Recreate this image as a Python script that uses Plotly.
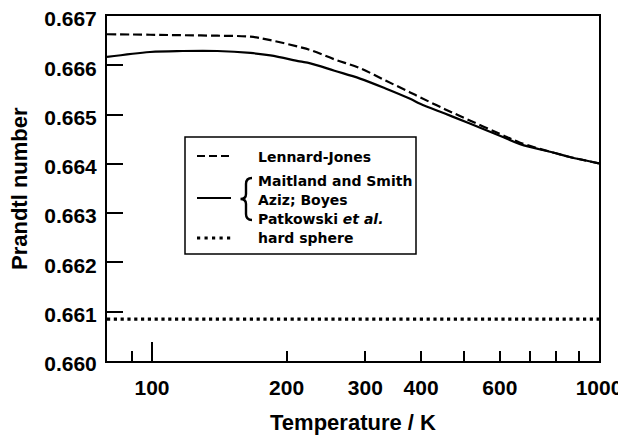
import math
import plotly.graph_objects as go

# ---- data ----
temperature_K = [79.3, 99, 117, 140, 166, 184, 214, 226, 256, 292, 333, 378, 398,
                 452, 514, 600, 666, 789, 860, 1000]
pr_lennard_jones = [0.66663, 0.66662, 0.66661, 0.66660, 0.66658, 0.66651, 0.66637,
                    0.66631, 0.66612, 0.66594, 0.66569, 0.66545, 0.66535, 0.66511,
                    0.66488, 0.66461, 0.66443, 0.66423, 0.66414, 0.66401]
pr_ab_initio = [0.66617, 0.66627, 0.66629, 0.66629, 0.66625, 0.66620, 0.66608,
                0.66604, 0.66589, 0.66573, 0.66553, 0.66532, 0.66522, 0.66502,
                0.66482, 0.66457, 0.66440, 0.66423, 0.66414, 0.66401]
hard_sphere_T = [79.3, 1000]
pr_hard_sphere = [0.66085, 0.66085]

x_tick_vals = [100, 200, 300, 400, 600, 1000]
x_tick_text = ["100", "200", "300", "400", "600", "1000"]
x_minor_vals = [90, 500, 700, 800, 900]
x_major_long = [100, 1000]
y_tick_vals = [0.660, 0.661, 0.662, 0.663, 0.664, 0.665, 0.666, 0.667]
y_tick_text = ["0.660", "0.661", "0.662", "0.663", "0.664", "0.665", "0.666", "0.667"]

x_title = "Temperature / K"
y_title = "Prandtl number"
legend_lj = "Lennard-Jones"
legend_ab = ["Maitland and Smith", "Aziz; Boyes", "Patkowski <i>et al.</i>"]
legend_hs = "hard sphere"

# ---- layout geometry (page pixels; the page body adds an 8 px offset) ----
OFF = 8
W, H = 626 - OFF, 435 - OFF
L, R, T, B = 107, 599, 16, 361   # plot area in page pixels

def px(x):
    return (x - L) / (R - L)

def py(y):
    return (B - y) / (B - T)

TICKFONT = dict(family="Liberation Sans, Arial", size=21, color="black", weight="bold")
TITLEFONT = dict(family="Liberation Sans, Arial", size=22, color="black", weight="bold")
LEGFONT = dict(family="DejaVu Sans", size=14, color="black", weight="bold")

fig = go.Figure()
fig.add_trace(go.Scatter(x=temperature_K, y=pr_lennard_jones, mode="lines",
                         line=dict(color="black", width=2.2, dash="9px,4px", shape="spline"),
                         showlegend=False))
fig.add_trace(go.Scatter(x=temperature_K, y=pr_ab_initio, mode="lines",
                         line=dict(color="black", width=2.2, shape="spline"),
                         showlegend=False))
fig.add_trace(go.Scatter(x=hard_sphere_T, y=pr_hard_sphere, mode="lines",
                         line=dict(color="black", width=3.2, dash="3.2px,3.6px"),
                         showlegend=False, xaxis="x2"))

xr = [math.log10(temperature_K[0]), math.log10(temperature_K[-1])]

shapes = []
shapes.append(dict(type="rect", xref="paper", yref="paper",
                   x0=px(185), x1=px(416), y0=py(254), y1=py(137),
                   line=dict(color="black", width=1.5), fillcolor="white", layer="above"))
shapes.append(dict(type="line", xref="paper", yref="paper",
                   x0=px(197), x1=px(233), y0=py(156), y1=py(156),
                   line=dict(color="black", width=2, dash="8px,4px")))
shapes.append(dict(type="line", xref="paper", yref="paper",
                   x0=px(197), x1=px(231), y0=py(198), y1=py(198),
                   line=dict(color="black", width=2)))
shapes.append(dict(type="line", xref="paper", yref="paper",
                   x0=px(197), x1=px(232), y0=py(238), y1=py(238),
                   line=dict(color="black", width=3.2, dash="3.2px,4.3px")))

def P(x, y):
    return f"{px(x):.5f},{py(y):.5f}"

brace = ("M " + P(252, 178) + " Q " + P(246, 178) + " " + P(246, 184) +
         " L " + P(246, 194) + " Q " + P(246, 199) + " " + P(240.5, 199) +
         " Q " + P(246, 199) + " " + P(246, 204) +
         " L " + P(246, 214) + " Q " + P(246, 220) + " " + P(252, 220))
shapes.append(dict(type="path", xref="paper", yref="paper", path=brace,
                   line=dict(color="black", width=2.4)))

annotations = []
def leg_text(txt, y):
    annotations.append(dict(xref="paper", yref="paper", x=px(257), y=py(y),
                            xanchor="left", yanchor="middle", text=txt,
                            showarrow=False, font=LEGFONT, borderpad=0))

leg_text(legend_lj, 157)
leg_text(legend_ab[0], 181)
leg_text(legend_ab[1], 200)
leg_text(legend_ab[2], 219)
leg_text(legend_hs, 238)

# y-axis title as rotated text
annotations.append(dict(xref="paper", yref="paper", x=px(20), y=py(189),
                        xanchor="center", yanchor="middle", text=y_title,
                        textangle=-90, showarrow=False, font=TITLEFONT, borderpad=0))

fig.update_layout(
    width=W, height=H,
    margin=dict(l=L - OFF, r=626 - R, t=T - OFF, b=435 - B, autoexpand=False),
    paper_bgcolor="white", plot_bgcolor="white",
    showlegend=False,
    shapes=shapes, annotations=annotations,
    xaxis=dict(type="log", range=xr, tickmode="array", tickvals=x_tick_vals,
               ticktext=x_tick_text, ticks="inside", ticklen=10, tickwidth=2,
               tickcolor="black", showline=True, linewidth=2, linecolor="black",
               mirror=True, showgrid=False, zeroline=False, tickfont=TICKFONT,
               ticklabelstandoff=7, automargin=False, ticklabeloverflow="allow",
               minor=dict(tickmode="array", tickvals=x_minor_vals, ticks="inside",
                          ticklen=10, tickwidth=2, tickcolor="black", showgrid=False),
               title=dict(text=x_title, font=TITLEFONT, standoff=18)),
    xaxis2=dict(type="log", range=xr, overlaying="x", anchor="y", side="bottom",
                tickmode="array", tickvals=x_major_long, ticks="inside", ticklen=19,
                tickwidth=2, tickcolor="black", showticklabels=False, automargin=False,
                showline=False, showgrid=False, zeroline=False),
    yaxis=dict(range=[0.660, 0.667], tickmode="array", tickvals=y_tick_vals,
               ticktext=y_tick_text, ticks="inside", ticklen=16, tickwidth=2,
               tickcolor="black", showline=True, linewidth=2, linecolor="black",
               mirror=True, showgrid=False, zeroline=False, tickfont=TICKFONT,
               ticklabelstandoff=4, ticklabelshift=3, automargin=False,
               ticklabeloverflow="allow"),
)

fig.write_html("out.html")
